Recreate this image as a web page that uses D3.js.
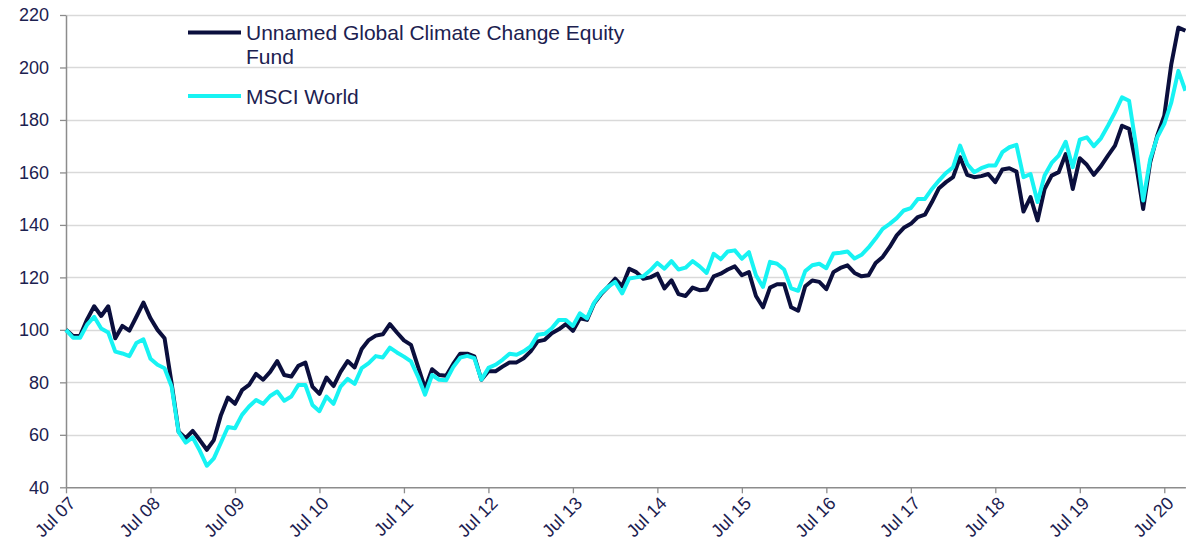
<!DOCTYPE html>
<html>
<head>
  <meta charset="utf-8" />
  <title>Fund vs MSCI World</title>
  <style>
    body { margin: 0; background: #ffffff; }
    svg { display: block; font-family: 'Liberation Sans', Arial, sans-serif; }
  </style>
  <script src="https://cdnjs.cloudflare.com/ajax/libs/d3/7.8.5/d3.min.js"></script>
</head>
<body>
  <div id="chart"></div>
  <script>
    // monthly index values, Jul 07 = 100
    var fund = [
      100, 97.7, 97.7, 104, 109, 105.3, 109, 96.8, 101.5, 99.7, 105, 110.4,
      104.4, 100, 96.8, 79.6, 61.2, 58.7, 61.5, 58, 54.3, 58, 67.5, 74.2,
      71.8, 77, 79, 83.2, 81, 84, 88.1, 82.8, 82.2, 86.3, 87.5, 78.4,
      75.6, 81.8, 78.6, 84, 88.1, 85.7, 92.7, 96.1, 97.8, 98.3, 102.2, 99,
      96, 94.3, 86, 77.7, 85, 82.8, 82.5, 87, 90.9, 90.9, 89.9, 81,
      84.2, 84.2, 86, 87.6, 87.6, 89.2, 91.8, 95.6, 96.2, 98.7, 100.2, 102.2,
      99.6, 104.4, 103.8, 110, 113.6, 116.4, 119.5, 116.6, 123.3, 122, 119.5, 120,
      121.4, 115.8, 118.9, 113.6, 112.9, 116.1, 115.1, 115.4, 120.4, 121.4, 123, 124.2,
      120.8, 122, 112.9, 108.6, 116.1, 117.4, 117.4, 108.6, 107.3, 116.6, 118.8, 118.3,
      115.5, 122, 123.6, 124.6, 121.7, 120.4, 120.8, 125.5, 127.8, 131.6, 136, 138.9,
      140.4, 143, 143.9, 148.7, 154, 156.3, 158.2, 165.8, 159.1, 158.2, 158.6, 159.4,
      156.3, 161.1, 161.6, 160.3, 145.1, 150.6, 141.7, 153.7, 158.8, 160.1, 167, 153.7,
      165.4, 162.9, 159.1, 162.4, 166.4, 170.2, 177.8, 176.6, 163, 146.1, 163.9, 174,
      181.6, 201.3, 215.2, 214
    ];
    var msci = [
      100, 97, 97, 102, 105, 100.5, 99, 91.7, 91, 90, 95, 96.4,
      89, 86.7, 85.4, 78.4, 61, 57, 59, 54, 48.2, 51, 57, 63,
      62.5, 67.6, 70.8, 73.3, 71.8, 74.8, 76.5, 73, 74.6, 79, 79, 71.4,
      69, 74.6, 71.8, 78.4, 81.3, 79.4, 85.4, 87.3, 90, 89.5, 93.2, 91.4,
      89.8, 88, 82.2, 75.3, 82.8, 81, 80.8, 85.8, 89.4, 90.1, 89.2, 81,
      85.5, 86.7, 88.6, 90.9, 90.5, 91.8, 93.7, 98.1, 98.5, 100.6, 103.8, 103.8,
      101.5, 106.3, 104.4, 110.3, 113.9, 116.4, 118.3, 113.9, 119.6, 120, 120.4, 122.7,
      125.5, 123.3, 126.2, 123, 123.7, 126.2, 124.2, 121.7, 129, 126.9, 129.9, 130.3,
      127.1, 129.6, 120.8, 116.4, 125.9, 125.2, 123, 115.8, 114.9, 122.4, 124.6, 125.2,
      123.5, 129.1, 129.4, 129.9, 127.2, 128.6, 131.4, 134.8, 138.5, 140.4, 142.6, 145.5,
      146.4, 149.9, 149.9, 153.7, 156.9, 159.8, 162, 170.2, 163.2, 160.1, 161.6, 162.6,
      162.6, 167.7, 169.6, 170.5, 158.2, 159.4, 148.7, 158.8, 163.6, 166.4, 171.7, 162,
      172.5, 173.4, 170, 173, 177.8, 182.9, 188.6, 187.3, 170, 149.3, 165.1, 173.4,
      178.5, 186.7, 198.7, 191.1
    ];
    var xLabels = ["Jul 07", "Jul 08", "Jul 09", "Jul 10", "Jul 11", "Jul 12", "Jul 13",
                   "Jul 14", "Jul 15", "Jul 16", "Jul 17", "Jul 18", "Jul 19", "Jul 20"];
    var yTicks = [40, 60, 80, 100, 120, 140, 160, 180, 200, 220];
    var seriesNames = ["Unnamed Global Climate Change Equity Fund", "MSCI World"];

    var w = 1186, h = 547;
    var margin = { top: 15, right: 0, bottom: 59, left: 66 };
    var navy = "#0b0f3d", cyan = "#17f3f3", textCol = "#1c2150";

    var svg = d3.select("#chart").append("svg")
      .attr("width", w)
      .attr("height", h);

    var x = d3.scaleLinear()
      .domain([0, fund.length - 1])
      .range([margin.left, 1185.4]);
    var y = d3.scaleLinear()
      .domain([40, 220])
      .range([h - margin.bottom - 0.7, margin.top]);

    // gridlines
    svg.append("g")
      .selectAll("line")
      .data(yTicks.slice(1))
      .enter()
      .append("line")
      .attr("x1", margin.left)
      .attr("x2", w)
      .attr("y1", function (d) { return Math.round(y(d)) + 0.5; })
      .attr("y2", function (d) { return Math.round(y(d)) + 0.5; })
      .attr("stroke", "#d9d9d9")
      .attr("stroke-width", 1.3);

    // y axis
    var yAxis = svg.append("g")
      .attr("transform", "translate(" + margin.left + ",0)")
      .call(d3.axisLeft(y).tickValues(yTicks).tickSize(6).tickPadding(11).tickSizeOuter(0));
    yAxis.select(".domain").attr("stroke", "#8c8c8c").attr("stroke-width", 1.5);
    yAxis.selectAll(".tick line").attr("stroke", "#8c8c8c").attr("stroke-width", 1.3);
    yAxis.selectAll(".tick text")
      .attr("fill", textCol)
      .attr("font-size", "18px")
      .attr("font-family", "'Liberation Sans', Arial, sans-serif");

    // x axis
    var tickIdx = xLabels.map(function (d, i) { return i * 12; });
    var xAxis = svg.append("g")
      .attr("transform", "translate(0," + y(40) + ")")
      .call(d3.axisBottom(x).tickValues(tickIdx).tickSize(6).tickSizeOuter(0)
        .tickFormat(function (d, i) { return xLabels[i]; }));
    xAxis.select(".domain").attr("stroke", "#8c8c8c").attr("stroke-width", 1.5);
    xAxis.selectAll(".tick line").attr("stroke", "#8c8c8c").attr("stroke-width", 1.3);
    xAxis.selectAll(".tick text")
      .attr("fill", textCol)
      .attr("font-size", "18px")
      .attr("font-family", "'Liberation Sans', Arial, sans-serif")
      .attr("text-anchor", "end")
      .attr("y", 0)
      .attr("dy", 0)
      .attr("transform", "translate(10,17) rotate(-45)");

    // series lines
    var line = d3.line()
      .x(function (d, i) { return x(i); })
      .y(function (d) { return y(d); });

    svg.append("path")
      .datum(fund)
      .attr("fill", "none")
      .attr("stroke", navy)
      .attr("stroke-width", 4)
      .attr("stroke-linejoin", "round")
      .attr("d", line);

    svg.append("path")
      .datum(msci)
      .attr("fill", "none")
      .attr("stroke", cyan)
      .attr("stroke-width", 4)
      .attr("stroke-linejoin", "round")
      .attr("d", line);

    // legend
    var legend = svg.append("g").attr("font-size", "21px").attr("fill", textCol);
    legend.append("line")
      .attr("x1", 188).attr("x2", 241).attr("y1", 32.5).attr("y2", 32.5)
      .attr("stroke", navy).attr("stroke-width", 4);
    legend.append("text").attr("x", 246).attr("y", 40).text("Unnamed Global Climate Change Equity");
    legend.append("text").attr("x", 246).attr("y", 63.5).text("Fund");
    legend.append("line")
      .attr("x1", 188).attr("x2", 241).attr("y1", 96).attr("y2", 96)
      .attr("stroke", cyan).attr("stroke-width", 4);
    legend.append("text").attr("x", 246).attr("y", 103.5).text(seriesNames[1]);
  </script>
</body>
</html>
